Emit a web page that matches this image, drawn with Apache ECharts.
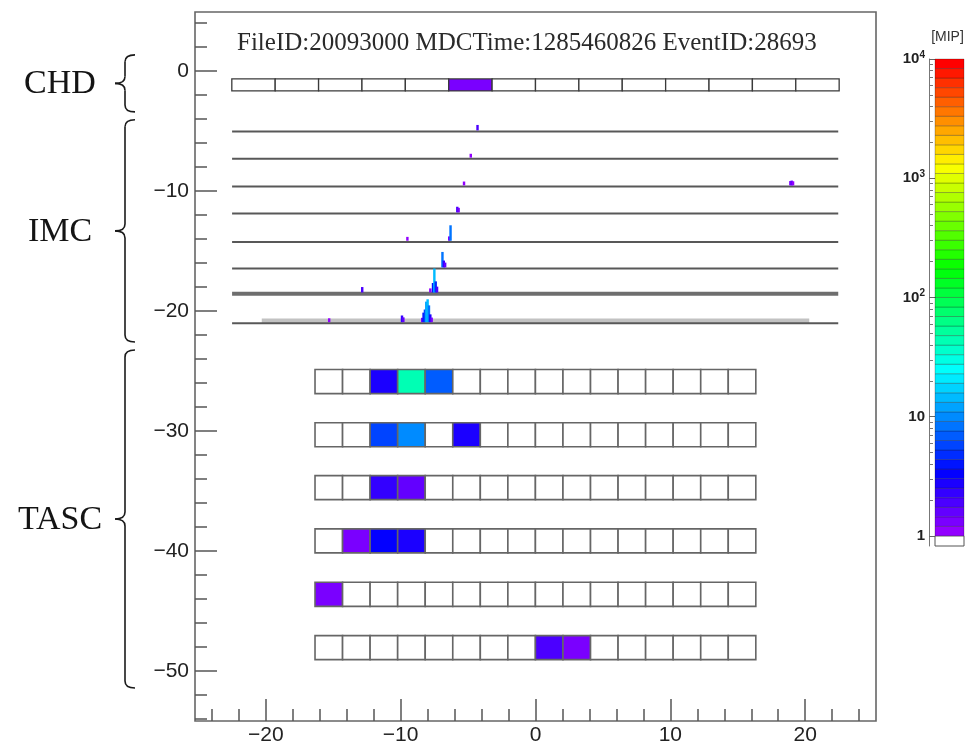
<!DOCTYPE html>
<html><head><meta charset="utf-8">
<script src="https://cdn.jsdelivr.net/npm/echarts@6/dist/echarts.min.js"></script>
<style>html,body{margin:0;padding:0;background:#fff}#c{width:972px;height:747px}</style>
</head><body><div id="c"></div>
<script>
// ================= DATA =================
const titleText = 'FileID:20093000 MDCTime:1285460826 EventID:28693';
const detectorNames = ['CHD', 'IMC', 'TASC'];
const braceRanges = [[1.33, -3.42], [-4.08, -22.58], [-23.25, -51.4]]; // y extent (cm) of each detector brace
const xMajorTicks = [-20, -10, 0, 10, 20];
const xMinorTicks = [-24, -22, -20, -18, -16, -14, -12, -10, -8, -6, -4, -2, 0, 2, 4, 6, 8, 10, 12, 14, 16, 18, 20, 22, 24];
const yMajorTicks = [0, -10, -20, -30, -40, -50];
const yMinorTicks = [4, 2, 0, -2, -4, -6, -8, -10, -12, -14, -16, -18, -20, -22, -24, -26, -28, -30, -32, -34, -36, -38, -40, -42, -44, -46, -48, -50, -52, -54];
const colorbarDecades = [0, 1, 2, 3, 4]; // log10(MIP)
const colorbarUnit = '[MIP]';

// CHD paddle energies (MIP), 14 paddles
const chdEnergy = [0, 0, 0, 0, 0, 1.3, 0, 0, 0, 0, 0, 0, 0, 0];

// IMC fibre layers (y in cm) and hits [x (cm), energy (MIP)]
const imcLayerY = [-5.06, -7.33, -9.64, -11.89, -14.25, -16.47, -18.56, -21.03];
const imcHits = [
  [[-4.3, 1.8]],
  [[-4.8, 1.1]],
  [[-5.3, 1.1], [18.9, 1.3], [19.0, 1.5], [19.1, 1.2]],
  [[-5.8, 1.9], [-5.7, 1.4]],
  [[-9.5, 1.1], [-6.4, 1.3], [-6.3, 8.0]],
  [[-6.9, 8.0], [-6.8, 2.5], [-6.7, 1.5]],
  [[-12.85, 1.8], [-7.8, 1.2], [-7.6, 4.0], [-7.5, 15.0], [-7.4, 5.0], [-7.3, 2.0]],
  [[-15.3, 1.1], [-9.9, 2.4], [-9.8, 1.5], [-8.4, 1.3], [-8.3, 4.0], [-8.2, 6.0], [-8.1, 12.0], [-8.0, 14.0], [-7.9, 9.0], [-7.8, 3.0], [-7.7, 1.4]]
];

// TASC logs: layer y (cm) and energies (MIP), 16 logs per layer
const tascLayerY = [-25.88, -30.31, -34.71, -39.15, -43.6, -48.04];
const tascEnergy = [
  [0, 0, 2.8, 43, 6.5, 0, 0, 0, 0, 0, 0, 0, 0, 0, 0, 0],
  [0, 0, 5.5, 10, 0, 2.9, 0, 0, 0, 0, 0, 0, 0, 0, 0, 0],
  [0, 0, 2.5, 1.55, 0, 0, 0, 0, 0, 0, 0, 0, 0, 0, 0, 0],
  [0, 1.4, 3.2, 2.6, 0, 0, 0, 0, 0, 0, 0, 0, 0, 0, 0, 0],
  [1.4, 0, 0, 0, 0, 0, 0, 0, 0, 0, 0, 0, 0, 0, 0, 0],
  [0, 0, 0, 0, 0, 0, 0, 0, 1.9, 1.3, 0, 0, 0, 0, 0, 0]
];

// ================= GEOMETRY / STYLE =================
const X_RANGE = [-25.25, 25.25];
const Y_RANGE = [-54.15, 4.9];
const CHD_X0 = -22.52, CHD_W = 3.217, CHD_Y = [-0.67, -1.67];
const IMC_X = [-22.5, 22.45];
const IMC_THICK_LAYER = 6, IMC_BAND_LAYER = 7, IMC_BAND_X = [-20.3, 20.3], IMC_BAND_H = 0.4;
const HIT_W = 0.18;
const TASC_X0 = -16.35, TASC_W = 2.043, TASC_H = 2.0;
const Z_MAX_DEC = 4, N_COLORS = 50, CB_UNDER = -0.085;
const serif = '"Liberation Serif", "Times New Roman", serif';
const sans = '"Liberation Sans", Arial, Helvetica, sans-serif';

function hslToHex(h, s, l) {
  const c = (1 - Math.abs(2 * l - 1)) * s, hp = h / 60, x = c * (1 - Math.abs(hp % 2 - 1));
  let r = 0, g = 0, b = 0;
  if (hp < 1) { r = c; g = x; } else if (hp < 2) { r = x; g = c; } else if (hp < 3) { g = c; b = x; }
  else if (hp < 4) { g = x; b = c; } else if (hp < 5) { r = x; b = c; } else { r = c; b = x; }
  const m = l - c / 2, f = v => Math.round((v + m) * 255).toString(16).padStart(2, '0');
  return '#' + f(r) + f(g) + f(b);
}
// ROOT "pretty palette" violet -> red
const palette = Array.from({ length: N_COLORS }, (_, i) => hslToHex(280 - (i + 1) * 280 / N_COLORS, 1, 0.5));
function colorFor(e) {
  if (!(e >= 1)) return '#ffffff';
  let i = Math.floor(Math.log10(e) / Z_MAX_DEC * N_COLORS);
  return palette[Math.max(0, Math.min(N_COLORS - 1, i))];
}
function hitHeight(e) { return 0.3 * Math.pow(e, 0.7); }
const minus = v => (v < 0 ? '\u2212' + (-v) : String(v));

// ---- series data built from the arrays ----
const chdData = chdEnergy.map((e, i) => [i, e]);
const imcLineData = imcLayerY.map((y, i) => [i, y]);
const imcHitData = [];
imcHits.forEach((hits, li) => hits.forEach(h => imcHitData.push([h[0], imcLayerY[li], h[1]])));
const tascData = [];
tascEnergy.forEach((row, r) => row.forEach((e, c) => tascData.push([c, tascLayerY[r], e])));
const cbData = [[-1]].concat(palette.map((_, i) => [i]));
const cbMinor = [];
for (let d = 0; d < Z_MAX_DEC; d++) for (let k = 2; k <= 9; k++) cbMinor.push(d + Math.log10(k));

function rectFromCoords(api, xa, ya, xb, yb, style) {
  const p0 = api.coord([xa, ya]), p1 = api.coord([xb, yb]);
  return { type: 'rect', shape: { x: Math.min(p0[0], p1[0]), y: Math.min(p0[1], p1[1]), width: Math.abs(p1[0] - p0[0]), height: Math.abs(p1[1] - p0[1]) }, style: style };
}

const chart = echarts.init(document.getElementById('c'), null, { renderer: 'canvas' });
const mainGrid = { left: 195, top: 12, width: 681, height: 709 };
const cbGrid = { left: 935, top: 59, width: 29, height: 487 };
const tickStyle = { color: '#555', width: 1.5 };
const noLine = { show: false, onZero: false };
const tickLabel = { formatter: minus, fontSize: 21, fontFamily: sans, color: '#222' };

const option = {
  backgroundColor: '#fff',
  animation: false,
  grid: [
    Object.assign({ show: true, borderColor: '#666', borderWidth: 1.6, backgroundColor: 'transparent' }, mainGrid),
    Object.assign({ show: false }, mainGrid),
    Object.assign({ show: false }, cbGrid),
    Object.assign({ show: false }, cbGrid)
  ],
  xAxis: [
    { gridIndex: 0, type: 'value', position: 'bottom', min: X_RANGE[0], max: X_RANGE[1], axisLine: noLine, splitLine: { show: false },
      axisTick: { show: true, inside: true, length: 22, customValues: xMajorTicks, lineStyle: tickStyle },
      axisLabel: Object.assign({ customValues: xMajorTicks, margin: 4 }, tickLabel) },
    { gridIndex: 1, type: 'value', position: 'bottom', min: X_RANGE[0], max: X_RANGE[1], axisLine: noLine, splitLine: { show: false },
      axisTick: { show: true, inside: true, length: 12, customValues: xMinorTicks, lineStyle: tickStyle },
      axisLabel: { show: false } },
    { gridIndex: 2, type: 'value', min: 0, max: 1, show: false, axisLine: noLine },
    { gridIndex: 3, type: 'value', min: 0, max: 1, show: false, axisLine: noLine }
  ],
  yAxis: [
    { gridIndex: 0, type: 'value', position: 'left', min: Y_RANGE[0], max: Y_RANGE[1], axisLine: noLine, splitLine: { show: false },
      axisTick: { show: true, inside: true, length: 22, customValues: yMajorTicks, lineStyle: tickStyle },
      axisLabel: Object.assign({ customValues: yMajorTicks, margin: 6 }, tickLabel) },
    { gridIndex: 1, type: 'value', position: 'left', min: Y_RANGE[0], max: Y_RANGE[1], axisLine: noLine, splitLine: { show: false },
      axisTick: { show: true, inside: true, length: 12, customValues: yMinorTicks, lineStyle: tickStyle },
      axisLabel: { show: false } },
    { gridIndex: 2, type: 'value', min: CB_UNDER, max: Z_MAX_DEC, position: 'left', offset: 6,
      axisLine: { show: true, onZero: false, lineStyle: { color: '#777', width: 1 } }, splitLine: { show: false },
      axisTick: { show: true, inside: true, length: 7, customValues: colorbarDecades, lineStyle: { color: '#666', width: 1 } },
      axisLabel: { customValues: colorbarDecades, margin: 4,
        formatter: v => (v === 0 ? '{b|1}' : v === 1 ? '{b|10}' : '{b|10}{s|' + v + '}'),
        rich: { b: { fontSize: 15, fontWeight: 'bold', fontFamily: sans, color: '#222' },
                s: { fontSize: 10, fontWeight: 'bold', fontFamily: sans, color: '#222', padding: [0, 0, 8, 0] } } } },
    { gridIndex: 3, type: 'value', min: CB_UNDER, max: Z_MAX_DEC, position: 'left', offset: 6,
      axisLine: noLine, splitLine: { show: false },
      axisTick: { show: true, inside: true, length: 4, customValues: cbMinor, lineStyle: { color: '#777', width: 1 } },
      axisLabel: { show: false } }
  ],
  series: [
    { type: 'custom', name: 'CHD', xAxisIndex: 0, yAxisIndex: 0, data: chdData, silent: true,
      renderItem: (p, api) => {
        const i = api.value(0), e = api.value(1);
        return rectFromCoords(api, CHD_X0 + i * CHD_W, CHD_Y[0], CHD_X0 + (i + 1) * CHD_W, CHD_Y[1],
          { fill: colorFor(e), stroke: '#3a3a3a', lineWidth: 1.3 });
      } },
    { type: 'custom', name: 'IMC layers', xAxisIndex: 0, yAxisIndex: 0, data: imcLineData, silent: true,
      renderItem: (p, api) => {
        const i = api.value(0), y = api.value(1);
        const a = api.coord([IMC_X[0], y]), b = api.coord([IMC_X[1], y]);
        const children = [];
        if (i === IMC_BAND_LAYER) {
          children.push(rectFromCoords(api, IMC_BAND_X[0], y, IMC_BAND_X[1], y + IMC_BAND_H, { fill: '#c2c2c2' }));
        }
        children.push({ type: 'line', shape: { x1: a[0], y1: a[1], x2: b[0], y2: b[1] },
          style: { stroke: i === IMC_THICK_LAYER ? '#6e6e6e' : '#585858', lineWidth: i === IMC_THICK_LAYER ? 4 : 2 } });
        return { type: 'group', children: children };
      } },
    { type: 'custom', name: 'IMC hits', xAxisIndex: 0, yAxisIndex: 0, data: imcHitData, silent: true,
      renderItem: (p, api) => {
        const x = api.value(0), y = api.value(1), e = api.value(2);
        return rectFromCoords(api, x - HIT_W / 2, y + 0.1, x + HIT_W / 2, y + 0.1 + hitHeight(e), { fill: colorFor(e) });
      } },
    { type: 'custom', name: 'TASC', xAxisIndex: 0, yAxisIndex: 0, data: tascData, silent: true,
      renderItem: (p, api) => {
        const c = api.value(0), y = api.value(1), e = api.value(2);
        return rectFromCoords(api, TASC_X0 + c * TASC_W, y + TASC_H / 2, TASC_X0 + (c + 1) * TASC_W, y - TASC_H / 2,
          { fill: colorFor(e), stroke: '#666', lineWidth: 1.6 });
      } },
    { type: 'custom', name: 'colorbar', xAxisIndex: 2, yAxisIndex: 2, data: cbData, silent: true,
      renderItem: (p, api) => {
        const i = api.value(0);
        if (i < 0) return rectFromCoords(api, 0, CB_UNDER, 1, 0, { fill: '#fff', stroke: '#555', lineWidth: 1 });
        const lo = i * Z_MAX_DEC / N_COLORS, hi = (i + 1) * Z_MAX_DEC / N_COLORS;
        return rectFromCoords(api, 0, lo, 1, hi, { fill: palette[i], stroke: 'rgba(0,0,0,0.3)', lineWidth: 0.8 });
      } }
  ]
};
chart.setOption(option);

// ---- annotations placed with the chart's own scale ----
const yPx = v => chart.convertToPixel({ gridIndex: 0 }, [0, v])[1];
const gp = chart.convertToPixel({ gridIndex: 0 }, [X_RANGE[0], Y_RANGE[1]]);
const elements = [];
const XA = 135, XS = 125, XT = 115, R = 7;
const braceStyle = { stroke: '#1a1a1a', lineWidth: 1.6, fill: null };
braceRanges.forEach((rg, k) => {
  const t = yPx(rg[0]), b = yPx(rg[1]), m = (t + b) / 2;
  elements.push(
    { type: 'bezierCurve', shape: { x1: XA, y1: t, cpx1: XS, cpy1: t, x2: XS, y2: t + R }, style: braceStyle },
    { type: 'line', shape: { x1: XS, y1: t + R, x2: XS, y2: m - R }, style: braceStyle },
    { type: 'bezierCurve', shape: { x1: XS, y1: m - R, cpx1: XS, cpy1: m, x2: XT, y2: m }, style: braceStyle },
    { type: 'bezierCurve', shape: { x1: XT, y1: m, cpx1: XS, cpy1: m, x2: XS, y2: m + R }, style: braceStyle },
    { type: 'line', shape: { x1: XS, y1: m + R, x2: XS, y2: b - R }, style: braceStyle },
    { type: 'bezierCurve', shape: { x1: XS, y1: b - R, cpx1: XS, cpy1: b, x2: XA, y2: b }, style: braceStyle },
    { type: 'text', x: 60, y: m + 1, style: { text: detectorNames[k], font: '34px ' + serif, fill: '#141414', textAlign: 'center', textVerticalAlign: 'middle' } }
  );
});
elements.push(
  { type: 'text', x: gp[0] + 42, y: gp[1] + 31, style: { text: titleText, font: '25px ' + serif, fill: '#2a2a2a', textAlign: 'left', textVerticalAlign: 'middle' } },
  { type: 'text', x: cbGrid.left + cbGrid.width / 2 - 2, y: 37, style: { text: colorbarUnit, font: '14px ' + sans, fill: '#333', textAlign: 'center', textVerticalAlign: 'middle' } }
);
chart.setOption({ graphic: { elements: elements } });
</script>
</body></html>
